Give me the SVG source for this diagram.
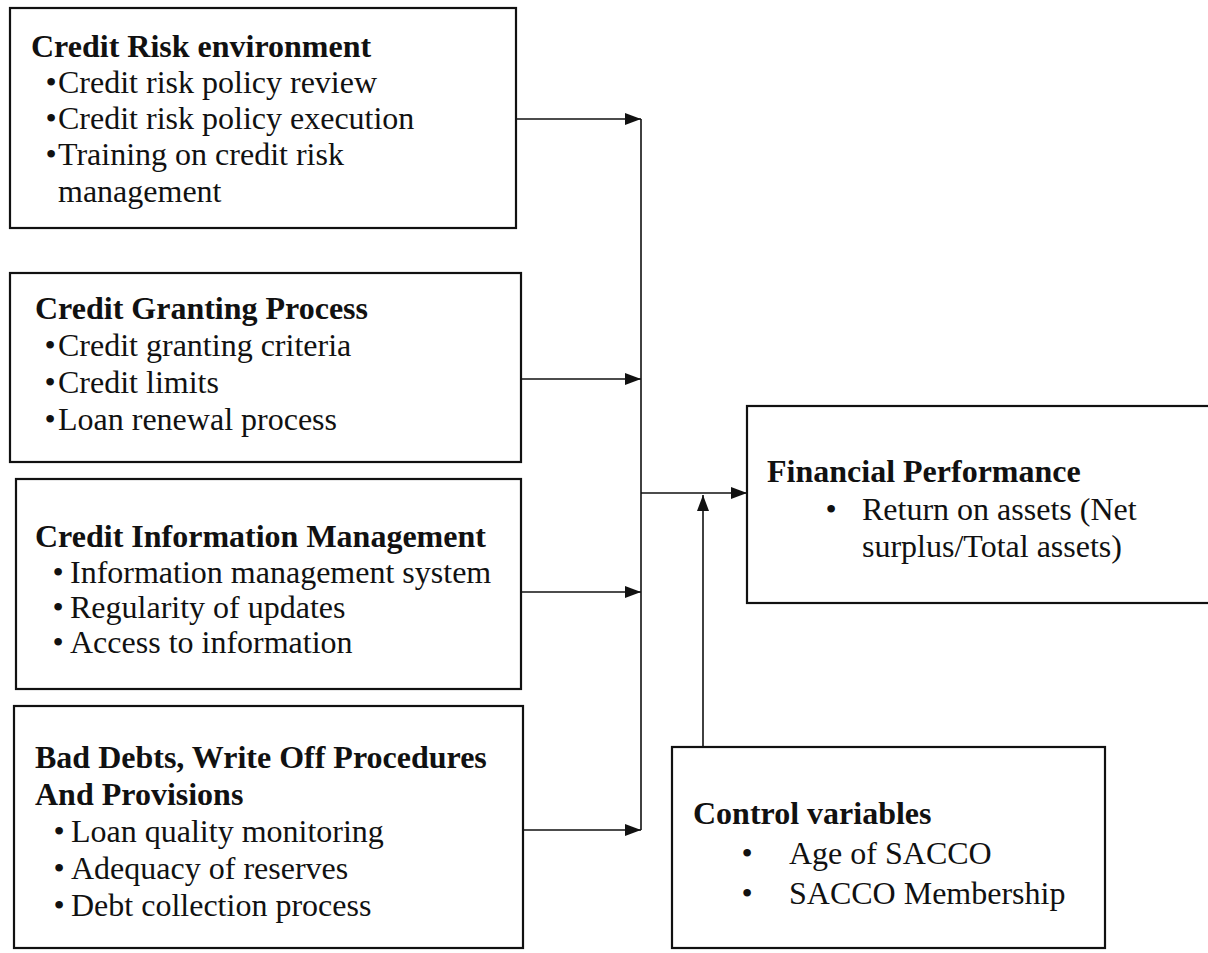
<svg xmlns="http://www.w3.org/2000/svg" width="1208" height="953" viewBox="0 0 1208 953">
<style>
.box{fill:none;stroke:#111;stroke-width:2.2}
.t{font-family:"Liberation Serif","Times New Roman",serif;font-size:32px;fill:#111}
.h{font-weight:bold}
.bu{font-family:"Liberation Serif","Times New Roman",serif;font-size:32px;fill:#111;text-anchor:middle}
.conn{stroke:#111;stroke-width:1.6;fill:none}
</style>
<defs>
<marker id="ah" markerWidth="16" markerHeight="12" refX="16" refY="6" orient="auto" markerUnits="userSpaceOnUse">
<path d="M0,0 L16,6 L0,12 z" fill="#111"/>
</marker>
</defs>
<rect width="1208" height="953" fill="#fff"/>
<g id="connectors">
<line class="conn" x1="516" y1="119" x2="641" y2="119" marker-end="url(#ah)"/>
<line class="conn" x1="521" y1="379" x2="641" y2="379" marker-end="url(#ah)"/>
<line class="conn" x1="521" y1="592" x2="641" y2="592" marker-end="url(#ah)"/>
<line class="conn" x1="523" y1="830" x2="641" y2="830" marker-end="url(#ah)"/>
<line class="conn" x1="641" y1="119" x2="641" y2="830"/>
<line class="conn" x1="641" y1="493" x2="747" y2="493" marker-end="url(#ah)"/>
<line class="conn" x1="703" y1="747" x2="703" y2="495" marker-end="url(#ah)"/>
</g>
<g id="credit-risk-environment">
<rect class="box" x="10" y="8" width="506" height="220"/>
<text class="t h" x="31" y="57">Credit Risk environment</text>
<text class="bu" x="51" y="93">•</text>
<text class="t" x="58" y="93">Credit risk policy review</text>
<text class="bu" x="51" y="129">•</text>
<text class="t" x="58" y="129">Credit risk policy execution</text>
<text class="bu" x="51" y="165">•</text>
<text class="t" x="58" y="165">Training on credit risk</text>
<text class="t" x="58" y="202">management</text>
</g>
<g id="credit-granting-process">
<rect class="box" x="10" y="273" width="511" height="189"/>
<text class="t h" x="35" y="319">Credit Granting Process</text>
<text class="bu" x="50" y="356">•</text>
<text class="t" x="58" y="356">Credit granting criteria</text>
<text class="bu" x="50" y="393">•</text>
<text class="t" x="58" y="393">Credit limits</text>
<text class="bu" x="50" y="430">•</text>
<text class="t" x="58" y="430">Loan renewal process</text>
</g>
<g id="credit-information-management">
<rect class="box" x="16" y="479" width="505" height="210"/>
<text class="t h" x="35" y="547">Credit Information Management</text>
<text class="bu" x="58" y="583">•</text>
<text class="t" x="70" y="583">Information management system</text>
<text class="bu" x="58" y="618">•</text>
<text class="t" x="70" y="618">Regularity of updates</text>
<text class="bu" x="58" y="653">•</text>
<text class="t" x="70" y="653">Access to information</text>
</g>
<g id="bad-debts">
<rect class="box" x="14" y="706" width="509" height="242"/>
<text class="t h" x="35" y="768">Bad Debts, Write Off Procedures</text>
<text class="t h" x="35" y="805">And Provisions</text>
<text class="bu" x="59" y="842">•</text>
<text class="t" x="71" y="842">Loan quality monitoring</text>
<text class="bu" x="59" y="879">•</text>
<text class="t" x="71" y="879">Adequacy of reserves</text>
<text class="bu" x="59" y="916">•</text>
<text class="t" x="71" y="916">Debt collection process</text>
</g>
<g id="financial-performance">
<rect class="box" x="747" y="406" width="470" height="197"/>
<text class="t h" x="767" y="482">Financial Performance</text>
<text class="bu" x="831" y="520">•</text>
<text class="t" x="862" y="520">Return on assets (Net</text>
<text class="t" x="862" y="557">surplus/Total assets)</text>
</g>
<g id="control-variables">
<rect class="box" x="672" y="747" width="433" height="201"/>
<text class="t h" x="693" y="824">Control variables</text>
<text class="bu" x="747" y="864">•</text>
<text class="t" x="789" y="864">Age of SACCO</text>
<text class="bu" x="747" y="904">•</text>
<text class="t" x="789" y="904">SACCO Membership</text>
</g>
</svg>
